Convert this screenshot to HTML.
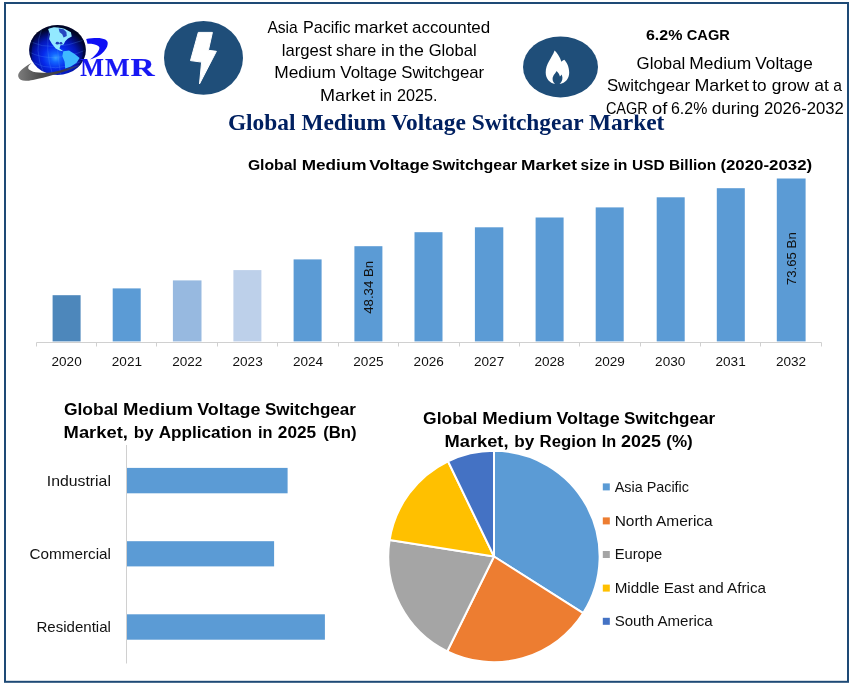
<!DOCTYPE html>
<html lang="en">
<head>
<meta charset="utf-8">
<title>Global Medium Voltage Switchgear Market</title>
<style>
  html, body { margin: 0; padding: 0; background: #ffffff; }
  body { width: 854px; height: 686px; overflow: hidden; }
  svg { display: block; }
  .sans { font-family: "Liberation Sans", sans-serif; }
  .serif { font-family: "Liberation Serif", serif; }
  .b { font-weight: bold; }
  .body17 { font-size: 16.4px; fill: #000000; }
  .ttl { font-size: 16.8px; font-weight: bold; fill: #000000; }
  .ax { font-size: 13.3px; fill: #111111; }
  .cat { font-size: 15px; fill: #111111; }
</style>
</head>
<body>
<svg width="854" height="686" viewBox="0 0 854 686">
  <defs>
    <radialGradient id="globeG" cx="0.47" cy="0.64" r="0.58" fx="0.47" fy="0.66">
      <stop offset="0" stop-color="#33a0ff"/>
      <stop offset="0.15" stop-color="#1264ff"/>
      <stop offset="0.4" stop-color="#0629ea"/>
      <stop offset="0.65" stop-color="#0417b8"/>
      <stop offset="0.85" stop-color="#020b62"/>
      <stop offset="1" stop-color="#010522"/>
    </radialGradient>
    <linearGradient id="swG" x1="0" y1="0" x2="1" y2="0">
      <stop offset="0" stop-color="#7c7c7c"/>
      <stop offset="0.35" stop-color="#4c4c4c"/>
      <stop offset="0.7" stop-color="#3a3a44"/>
      <stop offset="1" stop-color="#2a3a9a"/>
    </linearGradient>
    <clipPath id="globeClip"><ellipse cx="57.5" cy="50" rx="28.3" ry="25"/></clipPath>
  </defs>

  <rect x="0" y="0" width="854" height="686" fill="#ffffff"/>

  <!-- outer frame -->
  <rect x="5" y="3" width="843" height="678.8" fill="none" stroke="#1e4a76" stroke-width="2"/>

  <!-- ===== logo ===== -->
  <g id="logo">
    <ellipse cx="57.5" cy="50" rx="28.3" ry="25" fill="url(#globeG)"/>
    <g clip-path="url(#globeClip)">
      <!-- grid lines -->
      <g fill="none" stroke="#5a9cff" stroke-width="0.5" opacity="0.5">
        <path d="M31 42 Q52 52 84 40"/>
        <path d="M29 52 Q52 64 86 50"/>
        <path d="M32 62 Q54 74 83 61"/>
        <path d="M42 28 Q33 50 44 74"/>
        <path d="M50 26 Q44 50 53 76"/>
        <path d="M58 26 Q56 50 61 76"/>
      </g>
      <!-- continents -->
      <path d="M48.1 29 L53.8 27.1 L58.5 27.4 L64 28.4 L70.9 32.3 L71.8 36.6 L68 38.6 L65.2 41.3 L63.6 44.6 L60.4 45.2 L59.5 48.4 L63.3 51.3 L59.6 50.6 L55.7 48.4 L51.9 43.7 L49.1 39 L50 34.2 Z" fill="#93e9ff"/>
      <path d="M63.3 51.3 L69 50.6 L74.7 54.1 L79.6 57.9 L76.6 62.7 L70.9 66.6 L65.2 68.5 L64.6 61.7 L62.3 56 Z" fill="#3fb9ff"/>
      <path d="M58.6 28.4 L63.5 29.2 L66.4 32 L66.8 36 L63.6 37.4 L62.2 34.2 L59.6 32.2 Z" fill="#0a1fb0" opacity="0.8"/>
      <ellipse cx="57.4" cy="43.2" rx="1.7" ry="1.4" fill="#0a1fb0" opacity="0.85"/>
      <ellipse cx="60.9" cy="43.2" rx="1.5" ry="1.2" fill="#0a1fb0" opacity="0.85"/>
      <!-- shadows at the rim -->
      <path d="M77 29 Q91 50 74 74 L92 74 L92 26 Z" fill="#00072e" opacity="0.6"/>
      <path d="M44 24 Q24 44 36 74 L24 74 L24 22 Z" fill="#00072e" opacity="0.6"/>
      <path d="M34 34 Q56 20 82 36 L84 20 L30 20 Z" fill="#00072e" opacity="0.35"/>
    </g>
    <!-- gray swoosh -->
    <path d="M31.5 63.1 C24 67 17 72.6 18.3 76.8 C19.4 80.8 24 81.6 33 79.9 C40 78.6 46.5 76.8 51.9 75.3 C59 73.3 66 71 70.9 69.2 C74.6 67.8 78 66.2 80.8 64.6 C77.6 65.6 74 66.4 70.9 67.2 C66 68.6 61 70.2 56.7 71.3 C51.6 72.6 46.4 73 42.4 72.8 C37.6 72.6 33.4 72.2 31.1 70.8 C29.4 69.8 28.2 69 28.2 67.7 C28.2 66.2 29.8 64.6 31.5 63.1 Z" fill="url(#swG)"/>
    <!-- blue hook -->
    <path d="M86.2 39 C89.6 38.2 93.6 37.9 97 37.9 C100.4 37.9 103.4 38.4 105.3 39.5 C107.2 40.6 107.9 42 107.7 43.9 C107.5 45.6 107 47.2 106.1 48.6 C105 50.4 103.4 52.2 101.6 53.8 C99.6 55.4 97.2 56.8 94.6 57.8 C93.2 58.4 91.6 59 89.9 59.5 C91.8 58.2 93.6 56.6 95.2 54.9 C96.8 53.4 98 51.8 98.7 50.2 C99.3 49 99.6 48 99.3 47.2 C98.8 46 97.8 45.4 96.3 44.9 C94.8 44.4 93 44 91.1 43.8 C89.8 43.7 88.6 43.7 87.5 43.8 Z" fill="#1010f5"/>
    <text class="serif b" y="76.2" font-size="25.4" fill="#1717f3" stroke="#1717f3" stroke-width="0.15"><tspan x="80.3" textLength="23.6" lengthAdjust="spacingAndGlyphs">M</tspan><tspan x="104.9" textLength="24.6" lengthAdjust="spacingAndGlyphs">M</tspan><tspan x="130.6" textLength="24.2" lengthAdjust="spacingAndGlyphs">R</tspan></text>
  </g>

  <!-- ===== lightning icon ===== -->
  <ellipse cx="203.5" cy="57.9" rx="39.5" ry="36.9" fill="#1f4e79"/>
  <path d="M198.3 32.4 L212.4 32.4 L208.4 50.3 L216.4 51.3 L199.5 83.9 L201.6 62.1 L190.5 60.6 Z" fill="#ffffff" stroke="#ffffff" stroke-width="1" stroke-linejoin="round"/>

  <!-- ===== left text block ===== -->
  <g class="sans body17">
    <text y="33.0"><tspan x="267.4" textLength="30.4" lengthAdjust="spacingAndGlyphs">Asia</tspan> <tspan x="303.0" textLength="47.5" lengthAdjust="spacingAndGlyphs">Pacific</tspan> <tspan x="354.2" textLength="53.6" lengthAdjust="spacingAndGlyphs">market</tspan> <tspan x="412.0" textLength="78.2" lengthAdjust="spacingAndGlyphs">accounted</tspan></text>
    <text y="55.8"><tspan x="281.8" textLength="50.0" lengthAdjust="spacingAndGlyphs">largest</tspan> <tspan x="335.9" textLength="40.3" lengthAdjust="spacingAndGlyphs">share</tspan> <tspan x="381.1" textLength="13.8" lengthAdjust="spacingAndGlyphs">in</tspan> <tspan x="399.1" textLength="24.8" lengthAdjust="spacingAndGlyphs">the</tspan> <tspan x="428.7" textLength="47.9" lengthAdjust="spacingAndGlyphs">Global</tspan></text>
    <text y="78.3"><tspan x="274.2" textLength="61.7" lengthAdjust="spacingAndGlyphs">Medium</tspan> <tspan x="340.3" textLength="56.6" lengthAdjust="spacingAndGlyphs">Voltage</tspan> <tspan x="401.3" textLength="82.9" lengthAdjust="spacingAndGlyphs">Switchgear</tspan></text>
    <text y="100.8"><tspan x="320.1" textLength="55.1" lengthAdjust="spacingAndGlyphs">Market</tspan> <tspan x="379.8" textLength="12.2" lengthAdjust="spacingAndGlyphs">in</tspan> <tspan x="396.9" textLength="40.5" lengthAdjust="spacingAndGlyphs">2025.</tspan></text>
  </g>

  <!-- ===== flame icon ===== -->
  <ellipse cx="560.5" cy="66.9" rx="37.5" ry="30.5" fill="#1f4e79"/>
  <path d="M554.6 50.6 C557 53 560 57 561.4 61.8 C562.2 61 563.4 60.2 564.3 59.8 C566.6 62 569.2 67 569.2 72.5 C569.2 78.5 565.5 83 559.6 84 C561.6 82.4 562.6 80 562.4 77.6 C562.3 76.4 561.9 75.3 561.4 74.6 C561 75.6 560.5 76.2 559.9 76.6 C559.5 74.6 558.2 72.4 556.5 71 C555.6 73.4 552.6 75.6 552.6 79 C552.6 81 553.6 82.8 555.2 84 C549.6 83.2 545.7 78.6 545.7 72.6 C545.7 64 551.6 58.6 554.6 50.6 Z" fill="#ffffff"/>

  <!-- ===== main title ===== -->
  <text class="serif b" x="227.9" y="129.6" font-size="23.4" fill="#002060" textLength="436.5" lengthAdjust="spacingAndGlyphs">Global Medium Voltage Switchgear Market</text>

  <!-- white box of the right text block (clips the title top slightly) -->
  <rect x="600" y="44" width="245" height="70.6" fill="#ffffff"/>

  <!-- ===== right text block ===== -->
  <text class="sans b" y="40.3" font-size="15.5" fill="#000000"><tspan x="645.9" textLength="36.5" lengthAdjust="spacingAndGlyphs">6.2%</tspan> <tspan x="686.8" textLength="43" lengthAdjust="spacingAndGlyphs">CAGR</tspan></text>
  <g class="sans body17">
    <text y="68.8"><tspan x="636.6" textLength="48.7" lengthAdjust="spacingAndGlyphs">Global</tspan> <tspan x="689.3" textLength="61.9" lengthAdjust="spacingAndGlyphs">Medium</tspan> <tspan x="755.3" textLength="57.4" lengthAdjust="spacingAndGlyphs">Voltage</tspan></text>
    <text y="91.4"><tspan x="606.9" textLength="83.1" lengthAdjust="spacingAndGlyphs">Switchgear</tspan> <tspan x="694.4" textLength="54.6" lengthAdjust="spacingAndGlyphs">Market</tspan> <tspan x="752.3" textLength="14.3" lengthAdjust="spacingAndGlyphs">to</tspan> <tspan x="771.8" textLength="37.6" lengthAdjust="spacingAndGlyphs">grow</tspan> <tspan x="814.2" textLength="14.6" lengthAdjust="spacingAndGlyphs">at</tspan> <tspan x="833.3" textLength="8.7" lengthAdjust="spacingAndGlyphs">a</tspan></text>
    <text y="113.6"><tspan x="605.9" textLength="41.9" lengthAdjust="spacingAndGlyphs">CAGR</tspan> <tspan x="652.0" textLength="15.3" lengthAdjust="spacingAndGlyphs">of</tspan> <tspan x="671.0" textLength="36.3" lengthAdjust="spacingAndGlyphs">6.2%</tspan> <tspan x="711.7" textLength="47.6" lengthAdjust="spacingAndGlyphs">during</tspan> <tspan x="764.0" textLength="79.9" lengthAdjust="spacingAndGlyphs">2026-2032</tspan></text>
  </g>

  <!-- ===== column chart ===== -->
  <text class="sans b" y="170.4" font-size="15" fill="#000000"><tspan x="247.9" textLength="48.9" lengthAdjust="spacingAndGlyphs">Global</tspan> <tspan x="301.7" textLength="64.9" lengthAdjust="spacingAndGlyphs">Medium</tspan> <tspan x="369.2" textLength="60.1" lengthAdjust="spacingAndGlyphs">Voltage</tspan> <tspan x="432.1" textLength="85.2" lengthAdjust="spacingAndGlyphs">Switchgear</tspan> <tspan x="521.1" textLength="55.9" lengthAdjust="spacingAndGlyphs">Market</tspan> <tspan x="580.6" textLength="29.2" lengthAdjust="spacingAndGlyphs">size</tspan> <tspan x="613.5" textLength="14.0" lengthAdjust="spacingAndGlyphs">in</tspan> <tspan x="632.1" textLength="32.5" lengthAdjust="spacingAndGlyphs">USD</tspan> <tspan x="668.9" textLength="47.2" lengthAdjust="spacingAndGlyphs">Billion</tspan> <tspan x="720.4" textLength="91.8" lengthAdjust="spacingAndGlyphs">(2020-2032)</tspan></text>

  <g id="cols">
    <rect x="52.6" y="295.2" width="28" height="46.2" fill="#4d87bb"/>
    <rect x="112.7" y="288.4" width="28" height="53.0" fill="#5b9bd5"/>
    <rect x="172.9" y="280.4" width="28.6" height="61.0" fill="#97b9e0"/>
    <rect x="233.4" y="270.1" width="28" height="71.3" fill="#bdd0ea"/>
    <rect x="293.6" y="259.4" width="28" height="82.0" fill="#5b9bd5"/>
    <rect x="354.4" y="246.2" width="28" height="95.2" fill="#5b9bd5"/>
    <rect x="414.5" y="232.2" width="28" height="109.2" fill="#5b9bd5"/>
    <rect x="474.9" y="227.3" width="28.4" height="114.1" fill="#5b9bd5"/>
    <rect x="535.6" y="217.5" width="28" height="123.9" fill="#5b9bd5"/>
    <rect x="595.7" y="207.4" width="28" height="134.0" fill="#5b9bd5"/>
    <rect x="656.7" y="197.3" width="28" height="144.1" fill="#5b9bd5"/>
    <rect x="716.8" y="188.2" width="28" height="153.2" fill="#5b9bd5"/>
    <rect x="776.8" y="178.5" width="28.8" height="162.9" fill="#5b9bd5"/>
  </g>
  <!-- axis + ticks -->
  <g stroke="#d0d0d0" stroke-width="1" fill="none">
    <path d="M36.5 342.5 H821.5"/>
    <path d="M36.5 342.5 V346.5 M96.5 342.5 V346.5 M156.5 342.5 V346.5 M217.5 342.5 V346.5 M277.5 342.5 V346.5 M338.5 342.5 V346.5 M398.5 342.5 V346.5 M459.5 342.5 V346.5 M519.5 342.5 V346.5 M579.5 342.5 V346.5 M640.5 342.5 V346.5 M700.5 342.5 V346.5 M760.5 342.5 V346.5 M821.5 342.5 V346.5"/>
  </g>
  <g class="sans ax" text-anchor="middle">
    <text x="66.6" y="366.4" textLength="30.2" lengthAdjust="spacingAndGlyphs">2020</text>
    <text x="126.9" y="366.4" textLength="30.2" lengthAdjust="spacingAndGlyphs">2021</text>
    <text x="187.3" y="366.4" textLength="30.2" lengthAdjust="spacingAndGlyphs">2022</text>
    <text x="247.6" y="366.4" textLength="30.2" lengthAdjust="spacingAndGlyphs">2023</text>
    <text x="308" y="366.4" textLength="30.2" lengthAdjust="spacingAndGlyphs">2024</text>
    <text x="368.4" y="366.4" textLength="30.2" lengthAdjust="spacingAndGlyphs">2025</text>
    <text x="428.7" y="366.4" textLength="30.2" lengthAdjust="spacingAndGlyphs">2026</text>
    <text x="489.1" y="366.4" textLength="30.2" lengthAdjust="spacingAndGlyphs">2027</text>
    <text x="549.5" y="366.4" textLength="30.2" lengthAdjust="spacingAndGlyphs">2028</text>
    <text x="609.8" y="366.4" textLength="30.2" lengthAdjust="spacingAndGlyphs">2029</text>
    <text x="670.2" y="366.4" textLength="30.2" lengthAdjust="spacingAndGlyphs">2030</text>
    <text x="730.6" y="366.4" textLength="30.2" lengthAdjust="spacingAndGlyphs">2031</text>
    <text x="791" y="366.4" textLength="30.2" lengthAdjust="spacingAndGlyphs">2032</text>
  </g>
  <g class="sans ax" text-anchor="middle">
    <text transform="translate(372.6 287.3) rotate(-90)" textLength="53" lengthAdjust="spacingAndGlyphs">48.34 Bn</text>
    <text transform="translate(796.2 258.7) rotate(-90)" textLength="53" lengthAdjust="spacingAndGlyphs">73.65 Bn</text>
  </g>

  <!-- ===== horizontal bar chart ===== -->
  <g class="sans ttl">
    <text y="414.9"><tspan x="63.9" textLength="54.3" lengthAdjust="spacingAndGlyphs">Global</tspan> <tspan x="123.0" textLength="69.9" lengthAdjust="spacingAndGlyphs">Medium</tspan> <tspan x="197.2" textLength="63.3" lengthAdjust="spacingAndGlyphs">Voltage</tspan> <tspan x="264.9" textLength="91.1" lengthAdjust="spacingAndGlyphs">Switchgear</tspan></text>
    <text y="438.0"><tspan x="63.6" textLength="64.3" lengthAdjust="spacingAndGlyphs">Market,</tspan> <tspan x="133.8" textLength="19.8" lengthAdjust="spacingAndGlyphs">by</tspan> <tspan x="158.7" textLength="93.4" lengthAdjust="spacingAndGlyphs">Application</tspan> <tspan x="257.9" textLength="14.5" lengthAdjust="spacingAndGlyphs">in</tspan> <tspan x="277.8" textLength="38.4" lengthAdjust="spacingAndGlyphs">2025</tspan> <tspan x="323.2" textLength="33.4" lengthAdjust="spacingAndGlyphs">(Bn)</tspan></text>
  </g>
  <path d="M126.5 445 V663.5" stroke="#d0d0d0" stroke-width="1" fill="none"/>
  <rect x="127" y="467.9" width="160.6" height="25.4" fill="#5b9bd5"/>
  <rect x="127" y="541.2" width="147.1" height="25.2" fill="#5b9bd5"/>
  <rect x="127" y="614.3" width="197.9" height="25.4" fill="#5b9bd5"/>
  <g class="sans cat" text-anchor="end">
    <text x="110.9" y="485.8" textLength="64.1" lengthAdjust="spacingAndGlyphs">Industrial</text>
    <text x="110.9" y="559" textLength="81.4" lengthAdjust="spacingAndGlyphs">Commercial</text>
    <text x="110.9" y="632.1" textLength="74.4" lengthAdjust="spacingAndGlyphs">Residential</text>
  </g>

  <!-- ===== pie chart ===== -->
  <g class="sans ttl">
    <text y="423.9"><tspan x="423.1" textLength="54.3" lengthAdjust="spacingAndGlyphs">Global</tspan> <tspan x="482.2" textLength="69.9" lengthAdjust="spacingAndGlyphs">Medium</tspan> <tspan x="556.4" textLength="63.3" lengthAdjust="spacingAndGlyphs">Voltage</tspan> <tspan x="624.1" textLength="91.1" lengthAdjust="spacingAndGlyphs">Switchgear</tspan></text>
    <text y="446.7"><tspan x="444.5" textLength="64.0" lengthAdjust="spacingAndGlyphs">Market,</tspan> <tspan x="514.3" textLength="20.0" lengthAdjust="spacingAndGlyphs">by</tspan> <tspan x="539.6" textLength="56.8" lengthAdjust="spacingAndGlyphs">Region</tspan> <tspan x="601.7" textLength="14.5" lengthAdjust="spacingAndGlyphs">In</tspan> <tspan x="621.0" textLength="40.0" lengthAdjust="spacingAndGlyphs">2025</tspan> <tspan x="666.3" textLength="26.5" lengthAdjust="spacingAndGlyphs">(%)</tspan></text>
  </g>
  <g id="pie" stroke="#ffffff" stroke-width="2" stroke-linejoin="round">
    <path d="M494 556.5 L494.0 450.8 A105.7 105.7 0 0 1 583.2 613.1 Z" fill="#5b9bd5"/>
    <path d="M494 556.5 L583.2 613.1 A105.7 105.7 0 0 1 447.3 651.3 Z" fill="#ed7d31"/>
    <path d="M494 556.5 L447.3 651.3 A105.7 105.7 0 0 1 389.6 540.0 Z" fill="#a5a5a5"/>
    <path d="M494 556.5 L389.6 540.0 A105.7 105.7 0 0 1 448.0 461.3 Z" fill="#ffc000"/>
    <path d="M494 556.5 L448.0 461.3 A105.7 105.7 0 0 1 494.0 450.8 Z" fill="#4472c4"/>
  </g>
  <!-- legend -->
  <rect x="602.8" y="483.4" width="7" height="7" fill="#5b9bd5"/>
  <rect x="602.8" y="517.4" width="7" height="7" fill="#ed7d31"/>
  <rect x="602.8" y="551" width="7" height="7" fill="#a5a5a5"/>
  <rect x="602.8" y="584.6" width="7" height="7" fill="#ffc000"/>
  <rect x="602.8" y="617.8" width="7" height="7" fill="#4472c4"/>
  <g class="sans cat">
    <text x="614.7" y="491.6" textLength="74.3" lengthAdjust="spacingAndGlyphs">Asia Pacific</text>
    <text x="614.7" y="525.6" textLength="98" lengthAdjust="spacingAndGlyphs">North America</text>
    <text x="614.7" y="558.6" textLength="47.5" lengthAdjust="spacingAndGlyphs">Europe</text>
    <text x="614.7" y="592.6" textLength="151.3" lengthAdjust="spacingAndGlyphs">Middle East and Africa</text>
    <text x="614.7" y="625.8" textLength="98" lengthAdjust="spacingAndGlyphs">South America</text>
  </g>
</svg>
</body>
</html>
